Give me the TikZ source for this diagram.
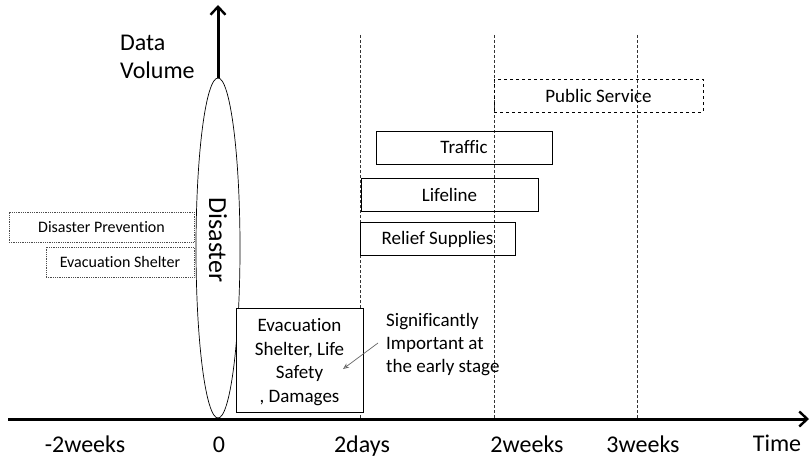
\documentclass[tikz,border=0pt]{standalone}
\usepackage{fontspec}
\setmainfont{Carlito}[Ligatures=NoCommon]
\usetikzlibrary{arrows.meta,shapes.geometric}
\begin{document}
\begin{tikzpicture}[x=1pt,y=-1pt,
  axis/.style={line width=3pt,-{Straight Barb[length=8pt,width=15pt,line width=2.4pt]}},
  guide/.style={densely dashed,line width=0.6pt,black!80},
  bar/.style={draw,line width=0.8pt,minimum height=33pt,inner sep=0pt,font=\fontsize{19}{22}\selectfont},
  leftbar/.style={draw=black!70,densely dotted,line width=0.8pt,minimum height=30pt,inner sep=0pt,font=\fontsize{16}{19}\selectfont},
  lbl/.style={font=\fontsize{24}{26}\selectfont,anchor=base,inner sep=0pt},
  note/.style={font=\fontsize{19}{23}\selectfont,align=left}]
\useasboundingbox (0,0) rectangle (810,457);
% guides
\coordinate (g1t) at (360,35); \coordinate (g1b) at (360,419);
\coordinate (g2t) at (494,35); \coordinate (g2b) at (494,419);
\coordinate (g3t) at (637,35); \coordinate (g3b) at (637,419);
\draw[guide] (g1t) -- (g1b);
\draw[guide] (g2t) -- (g2b);
\draw[guide] (g3t) -- (g3b);
% ellipse
\node[draw,ellipse,line width=0.7pt,fill=white,minimum width=44pt,minimum height=340pt,inner sep=0pt] (dis) at (218,248) {};
\node[rotate=-90,font=\fontsize{26}{28}\selectfont] (distxt) at (218,240) {Disaster};
% axes
\coordinate (xo) at (8,419); \coordinate (xe) at (809,419);
\coordinate (yo) at (218,419); \coordinate (ye) at (218,5);
\draw[axis] (xo) -- (xe);
\draw[line width=3pt] (yo) -- (dis.south);
\draw[axis] (dis.north) -- (ye);
% y label
\node[font=\fontsize{24}{28}\selectfont,align=left,anchor=north west,inner sep=0pt] (yl) at (120,35) {Data\\Volume};
% left bars
\node[leftbar,minimum width=185pt] (dp) at (101.5,227) {Disaster Prevention};
\node[leftbar,minimum width=148pt] (es) at (120,262) {Evacuation Shelter};
% right bars
\node[bar,dashed,line width=0.6pt,minimum width=209pt] (ps) at (598.5,95.5) {Public Service};
\node[bar,minimum width=176pt] (tr) at (464,147.5) {Traffic};
\node[bar,minimum width=177pt] (ll) at (449.5,194.5) {Lifeline};
\node[bar,minimum width=155pt] (rs) at (437.5,239) {Relief Supplies};
% bottom box
\node[draw,fill=white,line width=0.8pt,minimum width=127pt,minimum height=104pt,inner sep=0pt] (ev) at (299.5,360) {};
\node[align=center,inner sep=0pt,font=\fontsize{19}{23.5}\selectfont] (evt) at (299.5,362) {Evacuation\\Shelter, Life\\Safety\\, Damages};
% note
\node[note,anchor=north west,inner sep=0pt] (nt) at (386,313) {Significantly\\Important at\\the early stage};
\coordinate (na) at (378,343);
\coordinate (nb) at (343,369);
\draw[black!60,line width=0.7pt,-{Stealth[length=6pt,width=5pt,open]}] (na) -- (nb);
% x labels
\node[lbl] (l1) at (85,452) {-2weeks};
\node[lbl] (l2) at (219,452) {0};
\node[lbl] (l3) at (362,452) {2days};
\node[lbl] (l4) at (527,452) {2weeks};
\node[lbl] (l5) at (643,452) {3weeks};
\node[lbl] (l6) at (777,451) {Time};
\end{tikzpicture}
\end{document}
